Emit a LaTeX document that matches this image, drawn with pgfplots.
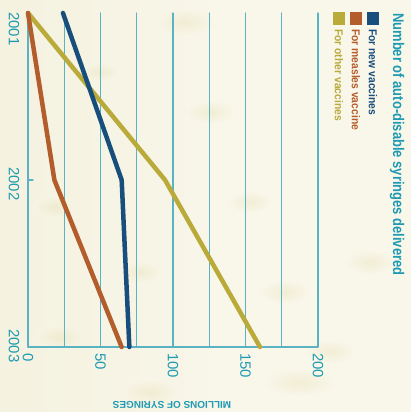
\documentclass[border=0pt]{standalone}
\usepackage{pgfplots}
\pgfplotsset{compat=1.18}
\usepackage{fontspec}
\setmainfont{Liberation Sans}
\definecolor{bgcream}{HTML}{F9F7EA}
\definecolor{blobcream}{HTML}{E8E2BC}
\definecolor{teal}{HTML}{1E9AB2}
\definecolor{gridteal}{HTML}{5AB3C3}
\definecolor{newblue}{HTML}{174E7C}
\definecolor{measles}{HTML}{B35C2C}
\definecolor{other}{HTML}{B9AA3A}

\begin{document}
\begin{tikzpicture}
% page and background
\path[use as bounding box] (0bp,0bp) rectangle (411bp,412bp);
\fill[bgcream] (0bp,0bp) rectangle (411bp,412bp);
\shade[left color=blobcream!60, right color=bgcream, opacity=0.5] (0bp,0bp) rectangle (220bp,412bp);
\foreach \cx/\cy/\rx/\ry in {55/205/22/12, 60/75/25/13, 140/140/22/12, 150/20/30/14, 210/300/25/12,
  250/210/22/11, 285/120/25/12, 330/60/25/12, 185/390/30/14, 100/340/20/10, 370/150/25/12, 300/30/35/14} {
  \shade[inner color=blobcream, outer color=bgcream, opacity=0.45] (\cx bp,\cy bp) ellipse ({\rx bp} and {\ry bp});
}

\begin{axis}[
  at={(28bp,65bp)}, anchor=south west,
  scale only axis, width=290bp, height=334bp,
  xmin=0, xmax=200, ymin=2001, ymax=2003,
  y dir=reverse,
  axis line style={draw=none},
  xtick={0,50,...,200}, minor xtick={25,75,125,175},
  ytick=\empty,
  xmajorgrids, xminorgrids,
  grid style={gridteal, line width=1.1bp},
  minor grid style={gridteal, line width=1.1bp},
  major grid style={gridteal, line width=1.1bp},
  major tick length=0pt, minor tick length=0pt,
  tick style={draw=none},
  /pgf/number format/assume math mode=true,
  xticklabel style={rotate=-90, anchor=west, inner xsep=6bp, font=\fontsize{15}{15}\selectfont, text=teal},
  clip=false,
  line cap=round, line join=round,
]
\draw[gridteal, line width=1.2bp] (axis cs:0,2001) -- (axis cs:0,2003) -- (axis cs:200,2003);
\draw[gridteal, line width=1.1bp] (axis cs:0,2002) -- (axis cs:3.5,2002);

\addplot[other, line width=4.5bp] coordinates {(0,2001) (94.5,2002) (160,2003)};
\addplot[measles, line width=4.5bp] coordinates {(0,2001) (18.2,2002) (64.6,2003)};
\addplot[newblue, line width=4.5bp] coordinates {(24.1,2001) (64.6,2002) (69.9,2003)};
\end{axis}

% year labels
\node[rotate=-90, anchor=west, inner sep=0pt, text=teal, font=\fontsize{15}{15}\selectfont]
  at (14bp,400bp) {2001};
\node[rotate=-90, inner sep=0pt, text=teal, font=\fontsize{15}{15}\selectfont]
  at (14bp,228bp) {2002};
\node[rotate=-90, inner sep=0pt, text=teal, font=\fontsize{15}{15}\selectfont]
  at (14bp,66bp) {2003};
% title
\node[rotate=-90, anchor=west, inner sep=0pt, text=teal, font=\bfseries\fontsize{15.5}{15.5}\selectfont]
  at (397bp,399bp) {\scalebox{0.84}[1]{Number of auto-disable syringes delivered}};
% legend
\fill[other]   (333bp,400bp) rectangle (345bp,387bp);
\fill[measles] (350bp,400bp) rectangle (362bp,387bp);
\fill[newblue] (367bp,400bp) rectangle (379bp,387bp);
\node[rotate=-90, anchor=west, inner sep=0pt, text=newblue, font=\bfseries\fontsize{11.5}{11.5}\selectfont]
  at (373bp,383bp) {\scalebox{0.9}[1]{For new vaccines}};
\node[rotate=-90, anchor=west, inner sep=0pt, text=measles, font=\bfseries\fontsize{11.5}{11.5}\selectfont]
  at (356bp,383bp) {\scalebox{0.9}[1]{For measles vaccine}};
\node[rotate=-90, anchor=west, inner sep=0pt, text=other, font=\bfseries\fontsize{11.5}{11.5}\selectfont]
  at (339bp,383bp) {\scalebox{0.9}[1]{For other vaccines}};
% axis title, upside down
\node[rotate=180, inner sep=0pt, text=teal, font=\bfseries\fontsize{10}{10}\selectfont]
  at (172bp,7bp) {MILLIONS OF SYRINGES};
\end{tikzpicture}
\end{document}
